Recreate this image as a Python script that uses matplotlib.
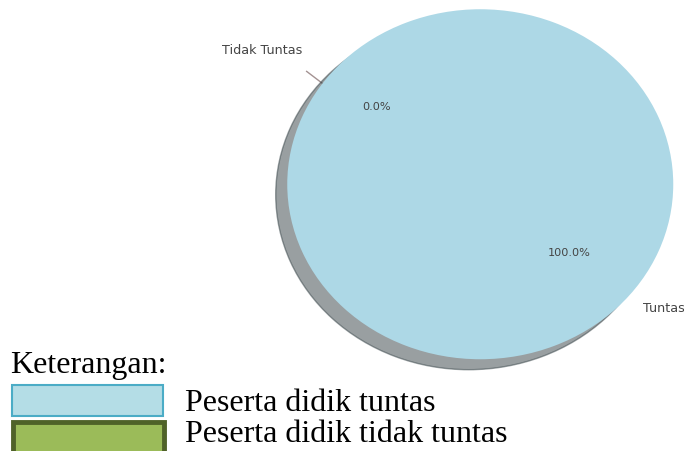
import matplotlib.pyplot as plt
from matplotlib.patches import Rectangle

# Data
labels = ["Tidak Tuntas", "Tuntas"]
sizes = [0, 100]
pie_colors = ["lightcoral", "lightblue"]
explode = [0.1, 0]

legend_title = "Keterangan:"
legend_labels = ["Peserta didik tuntas", "Peserta didik tidak tuntas"]
legend_fill = ["#b4dde6", "#9bbb59"]
legend_edge = ["#4bacc6", "#4f6228"]

W, H = 684, 452
fig = plt.figure(figsize=(W / 100, H / 100), dpi=100)

# pie axes, stretched so the pie becomes an ellipse
ax = fig.add_axes([239 / W, 48 / H, 482.5 / W, 437.5 / H])
wedges, texts, autotexts = ax.pie(
    sizes, labels=labels, colors=pie_colors, explode=explode,
    autopct="%1.1f%%", startangle=140,
    shadow={"ox": -0.043, "oy": -0.043, "shade": 0.7},
    textprops={"color": "#444444", "fontsize": 9.2},
)
# full wedge: avoid float round-off collapsing the 360 deg arc
wedges[1].set_theta1(0)
wedges[1].set_theta2(360)
for t in autotexts:
    t.set_fontsize(8.1)
ax.set_aspect("auto")
ax.set_xlim(-1.25, 1.25)
ax.set_ylim(-1.25, 1.25)


def px(x, y):
    # pixel (from top-left) -> figure fraction
    return x / W, 1 - y / H


serif = ["Liberation Serif", "DejaVu Serif"]
fig.text(*px(10, 373), legend_title, family=serif, fontsize=23, va="baseline")

boxes = [(12, 386, 151, 31, 1.5), (13, 423, 151, 34, 3.5)]
baselines = [411, 442]
for (x, y, w, h, lw), fc, ec, lab, bl in zip(boxes, legend_fill, legend_edge,
                                              legend_labels, baselines):
    x0, y0 = px(x, y + h)
    fig.add_artist(Rectangle((x0, y0), w / W, h / H, transform=fig.transFigure,
                             facecolor=fc, edgecolor=ec, linewidth=lw,
                             clip_on=False))
    fig.text(*px(185, bl), lab, family=serif, fontsize=23, va="baseline")

fig.savefig("out.png", dpi=100)
